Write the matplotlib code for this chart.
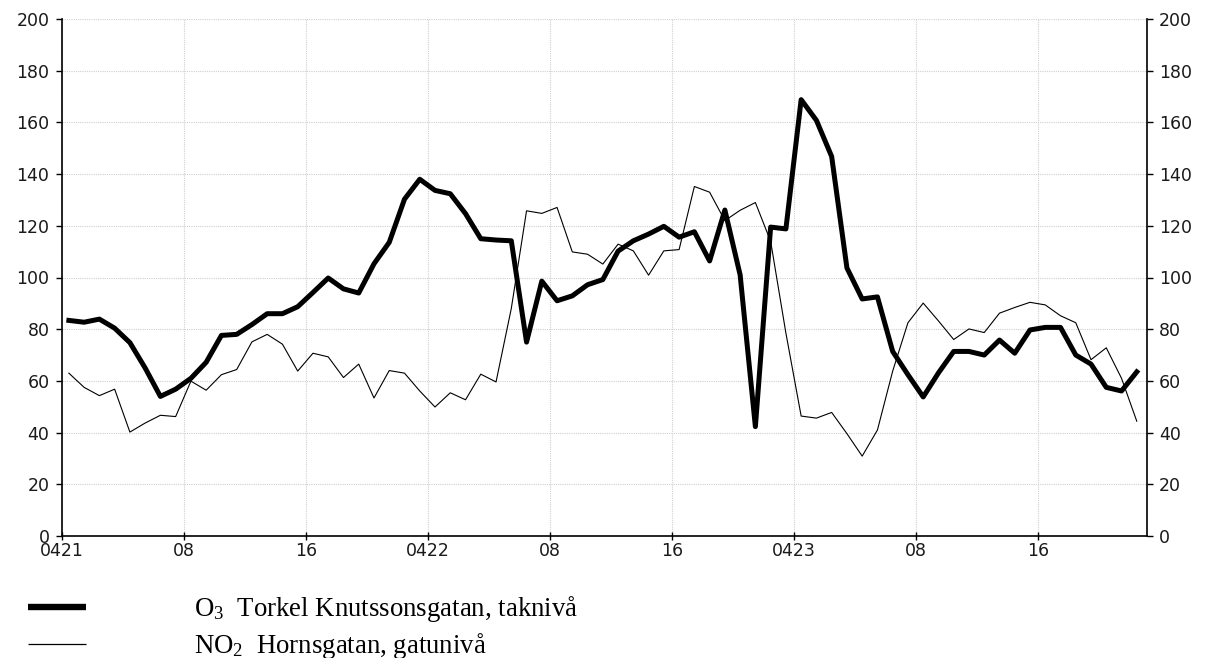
import numpy as np
import matplotlib
matplotlib.use("Agg")
import matplotlib.pyplot as plt
from matplotlib.lines import Line2D

# Hourly concentrations, 21-23 April
o3_values = [
    83.4, 82.7, 83.9, 80.4, 74.8, 65.0, 54.0, 56.8, 61.0, 67.2,
    77.6, 78.0, 81.8, 86.0, 86.0, 88.7, 94.2, 99.8, 95.6, 94.0,
    105.3, 113.6, 130.3, 138.0, 133.7, 132.4, 124.7, 115.0, 114.5, 114.2,
    75.0, 98.6, 91.0, 92.9, 97.2, 99.2, 110.2, 114.2, 116.8, 119.8,
    115.6, 117.7, 106.4, 126.1, 101.0, 42.3, 119.5, 118.8, 168.8, 160.8,
    146.8, 103.7, 91.7, 92.5, 71.4, 62.4, 53.8, 63.1, 71.4, 71.4,
    70.0, 75.8, 70.7, 79.7, 80.7, 80.7, 70.0, 66.5, 57.5, 56.1,
    63.5,
]
no2_values = [
    63.0, 57.5, 54.3, 56.8, 40.2, 43.7, 46.7, 46.2, 59.9, 56.4,
    62.4, 64.4, 75.1, 78.0, 74.2, 63.8, 70.7, 69.3, 61.3, 66.5,
    53.4, 64.0, 63.0, 56.1, 49.9, 55.4, 52.7, 62.6, 59.6, 88.0,
    125.8, 124.8, 127.1, 109.9, 109.0, 105.2, 112.9, 110.3, 100.9, 110.3,
    110.8, 135.2, 133.0, 122.0, 126.0, 129.0, 114.0, 78.5, 46.4, 45.6,
    47.8, 39.6, 30.9, 41.0, 63.8, 82.5, 90.1, 83.2, 76.0, 80.1,
    78.7, 86.2, 88.4, 90.4, 89.4, 85.2, 82.5, 68.2, 72.8, 61.0,
    44.4,
]
x_tick_hours = [0, 8, 16, 24, 32, 40, 48, 56, 64]
x_tick_labels = ["0421", "08", "16", "0422", "08", "16", "0423", "08", "16"]
y_ticks = [0, 20, 40, 60, 80, 100, 120, 140, 160, 180, 200]

plt.rcParams["mathtext.fontset"] = "custom"
plt.rcParams["mathtext.rm"] = "Liberation Serif"
plt.rcParams["mathtext.it"] = "Liberation Serif:italic"

W, H = 1208, 658
fig = plt.figure(figsize=(W / 100, H / 100), dpi=100)
fig.patch.set_facecolor("white")

left, right, top, bottom = 62, 1146.7, 19, 536
ax = fig.add_axes([left / W, 1 - bottom / H, (right - left) / W, (bottom - top) / H])

hours = np.arange(len(o3_values)) + 0.45
ax.plot(hours, no2_values, color="black", lw=0.8, zorder=3)
ax.plot(hours, o3_values, color="black", lw=3.6, zorder=4,
        solid_joinstyle="round")

ax.set_xlim(0, 71.1)
ax.set_ylim(0, 200)

ax.set_xticks(x_tick_hours)
ax.set_xticklabels(x_tick_labels)
ax.set_yticks(y_ticks)

ax.grid(True, color="#d0d0d0", linestyle=(0, (1, 1)), linewidth=0.8, zorder=0)

for side in ("left", "right", "bottom"):
    ax.spines[side].set_color("black")
    ax.spines[side].set_linewidth(1.2)
ax.spines["top"].set_visible(False)

ax.yaxis.set_ticks_position("both")
ax.tick_params(axis="y", which="both", direction="out", length=4, width=1.0,
               pad=5, labelright=True, labelleft=True,
               labelsize=12.5, labelcolor="#1a1a1a")
ax.tick_params(axis="x", direction="inout", length=6, width=1.0, pad=1,
               labelsize=12.5, labelcolor="#1a1a1a")
for lab in ax.get_xticklabels() + ax.get_yticklabels():
    lab.set_family("DejaVu Sans")

# Legend drawn below the plot
fig.add_artist(Line2D([28 / W, 86 / W], [1 - 606.5 / H] * 2,
                      transform=fig.transFigure, color="black", lw=4.6,
                      solid_capstyle="butt"))
fig.add_artist(Line2D([28 / W, 86 / W], [1 - 644 / H] * 2,
                      transform=fig.transFigure, color="black", lw=0.9,
                      solid_capstyle="butt"))
legend_font = dict(family="Liberation Serif", size=19.3, color="black")
fig.text(194 / W, 1 - 616 / H, r"O$_3$  Torkel Knutssonsgatan, taknivå",
         ha="left", va="baseline", **legend_font)
fig.text(194 / W, 1 - 653 / H, r"NO$_2$  Hornsgatan, gatunivå",
         ha="left", va="baseline", **legend_font)

fig.savefig("out.png", dpi=100, facecolor="white")
